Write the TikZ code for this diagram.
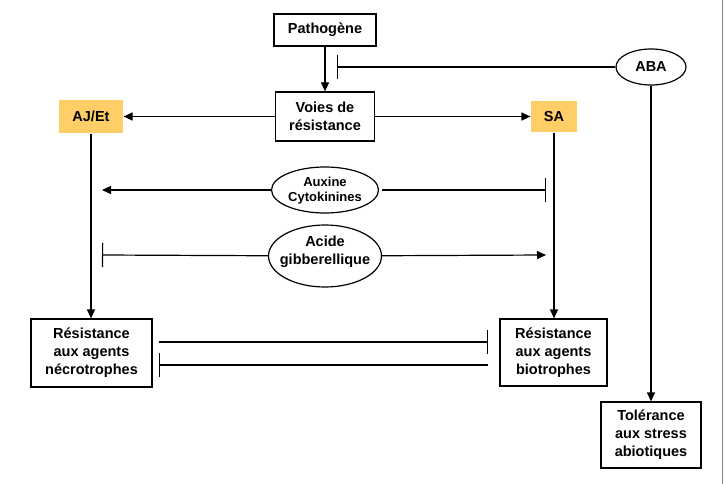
\documentclass[tikz,border=0pt]{standalone}
\usepackage{fontspec}
\setmainfont{Liberation Sans}
\usetikzlibrary{arrows.meta,shapes.geometric}
\definecolor{orangebox}{RGB}{255,206,102}
\begin{document}
\begin{tikzpicture}[x=1pt,y=-1pt,
  base/.style={font=\bfseries\fontsize{14.5}{18}\selectfont, align=center, inner sep=0pt, line width=1.2pt},
  box/.style={base, draw, rectangle},
  hbox/.style={base, rectangle, fill=orangebox},
  ell/.style={base, draw, ellipse, inner sep=0pt},
  conn/.style={line width=1.2pt},
  arr/.style={conn, -{Triangle[length=9pt,width=8pt]}},
  inh/.style={conn, -{Bar[width=24pt]}}]
\useasboundingbox (0,0) rectangle (725,484);
\draw[gray, line width=1pt] (722,0) -- (722,484);

\node[box, minimum width=102pt, minimum height=32pt] (path) at (325,30) {Pathogène};
\node[box, minimum width=99pt, minimum height=49pt] (voies) at (325,116.5) {Voies de\\résistance};
\node[hbox, minimum width=64pt, minimum height=33pt] (ajet) at (91,116.5) {AJ/Et};
\node[hbox, minimum width=46pt, minimum height=31pt] (sa) at (554,116.5) {SA};
\node[ell, minimum width=70pt, minimum height=36pt] (aba) at (651,67) {};
\node[base] (abatext) at (aba) {ABA};

\node[ell, minimum width=107pt, minimum height=46pt] (aux) at (325,190) {};
\node[base, font=\bfseries\fontsize{13}{15}\selectfont] (auxtext) at (325,190.5) {Auxine\\Cytokinines};
\node[ell, minimum width=113pt, minimum height=62pt] (ga) at (325,256) {};
\node[base] (gatext) at (325,251.5) {Acide\\gibberellique};

\node[box, minimum width=121pt, minimum height=68pt] (necro) at (91.5,353) {Résistance\\aux agents\\nécrotrophes};
\node[box, minimum width=107pt, minimum height=67pt] (bio) at (553.5,352.5) {Résistance\\aux agents\\biotrophes};
\node[box, minimum width=100pt, minimum height=66pt] (tol) at (651,435) {Tolérance\\aux stress\\abiotiques};

\coordinate (abainh) at (337,67);
\coordinate (auxL) at (102,190);
\coordinate (auxR0) at (382,190);
\coordinate (auxR) at (546,190);
\coordinate (gaL) at (102,255);
\coordinate (gaR) at (546,255);
\coordinate (nA) at (159,342);
\coordinate (bA) at (488,342);
\coordinate (bB) at (488,365);
\coordinate (nB) at (159,365);

\draw[arr] (path) -- (voies);
\draw[arr] (voies) -- (ajet);
\draw[arr] (voies) -- (sa);
\draw[inh] (aba) -- (abainh);
\draw[arr] (aba) -- (tol);
\draw[arr] (ajet.south) -- (ajet.south |- necro.north);
\draw[arr] (sa.south) -- (sa.south |- bio.north);
\draw[arr] (aux) -- (auxL);
\draw[inh] (auxR0) -- (auxR);
\draw[inh] (ga) -- (gaL);
\draw[arr] (ga) -- (gaR);
\draw[inh] (nA) -- (bA);
\draw[inh] (bB) -- (nB);
\end{tikzpicture}
\end{document}
